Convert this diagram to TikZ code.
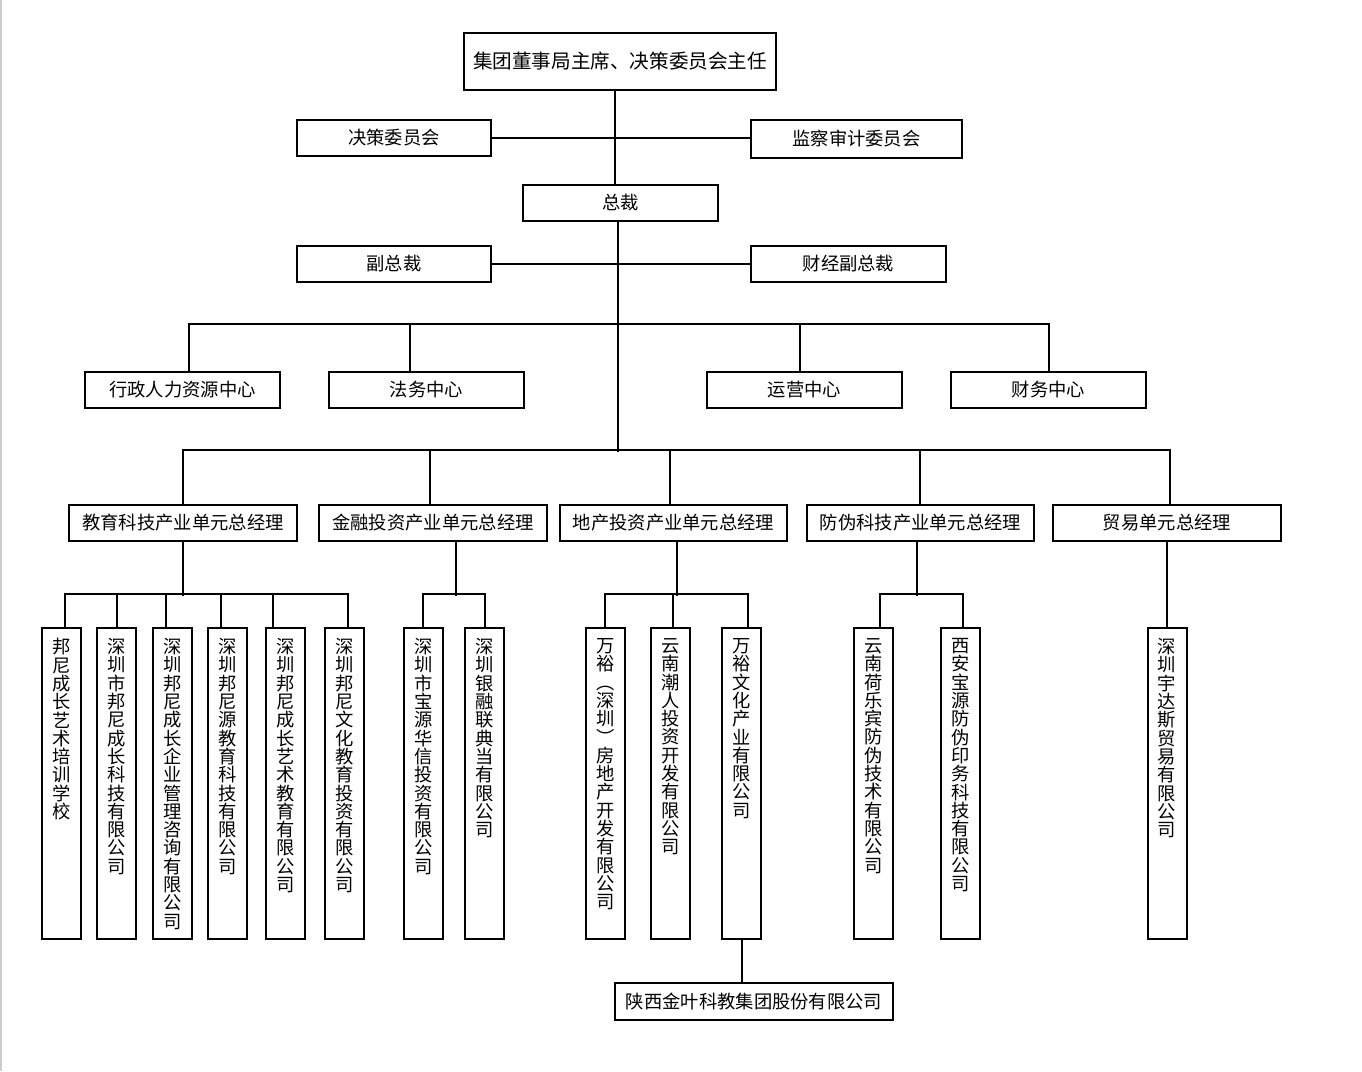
\documentclass[tikz,border=0pt]{standalone}
\usepackage{fontspec}
\newfontfamily\cjk{Noto Sans CJK SC}
% texte vertical : un caractere par ligne
\newcommand\shuxie[1]{\vbox to 290pt{\baselineskip=18.3pt\lineskiplimit=-\maxdimen\shuxiepas#1\relax\vfil}}
\def\shuxiepas#1{\ifx\relax#1\else\hbox to 22pt{\hss#1\hss}\expandafter\shuxiepas\fi}
\tikzset{poste/.style={draw,inner sep=0pt,minimum width=#1,minimum height=36pt,font=\cjk\fontsize{18.3}{18.3}\selectfont},poste/.default={195pt}}
\tikzset{societe/.style={draw,inner sep=0pt,minimum width=39pt,minimum height=311pt,anchor=north,font=\cjk\fontsize{18.3}{18.3}\selectfont}}

\begin{document}
\begin{tikzpicture}
[x=1pt,y=-1pt,line width=2pt]
\useasboundingbox (0,0) rectangle (1362,1071);
\draw[gray!40,line width=2pt] (1,0) -- (1,1071);
\node [poste=312pt,minimum height=57pt,font=\cjk\fontsize{19.6}{19.6}\selectfont] (top) at (620,61.5) {集团董事局主席、决策委员会主任};
\node [poste=194pt] (jueche) at (394,138) {决策委员会};
\node [poste=211pt,minimum height=38pt] (jiancha) at (856.5,139) {监察审计委员会};
\node [poste] (zongcai) at (620.5,203) {总裁};
\node [poste=194pt] (fuzong) at (394,264) {副总裁};
\node [poste] (caijing) at (848.5,264) {财经副总裁};
\node [poste] (xingzheng) at (182.5,389.5) {行政人力资源中心};
\node [poste] (fawu) at (426.5,389.5) {法务中心};
\node [poste] (yunying) at (804.5,389.5) {运营中心};
\node [poste] (caiwu) at (1048.5,389.5) {财务中心};
\node [poste=228pt] (jiaoyu) at (183,523) {教育科技产业单元总经理};
\node [poste=228pt] (jinrong) at (433,523) {金融投资产业单元总经理};
\node [poste=227pt] (dichan) at (673.5,523) {地产投资产业单元总经理};
\node [poste=227pt] (fangwei) at (920.5,523) {防伪科技产业单元总经理};
\node [poste=228pt] (maoyi) at (1167,523) {贸易单元总经理};
\node [societe] (b1) at (61.5,627) {\shuxie{邦尼成长艺术培训学校}};
\node [societe] (b2) at (116.5,627) {\shuxie{深圳市邦尼成长科技有限公司}};
\node [societe] (b3) at (172.5,627) {\shuxie{深圳邦尼成长企业管理咨询有限公司}};
\node [societe] (b4) at (227.5,627) {\shuxie{深圳邦尼源教育科技有限公司}};
\node [societe] (b5) at (285.5,627) {\shuxie{深圳邦尼成长艺术教育有限公司}};
\node [societe] (b6) at (344.5,627) {\shuxie{深圳邦尼文化教育投资有限公司}};
\node [societe] (b7) at (423.5,627) {\shuxie{深圳市宝源华信投资有限公司}};
\node [societe] (b8) at (484.5,627) {\shuxie{深圳银融联典当有限公司}};
\node [societe] (b9) at (605.5,627) {\shuxie{万裕︵深圳︶房地产开发有限公司}};
\node [societe] (b10) at (670.5,627) {\shuxie{云南潮人投资开发有限公司}};
\node [societe] (b11) at (741.5,627) {\shuxie{万裕文化产业有限公司}};
\node [societe] (b12) at (873.5,627) {\shuxie{云南荷乐宾防伪技术有限公司}};
\node [societe] (b13) at (960.5,627) {\shuxie{西安宝源防伪印务科技有限公司}};
\node [societe] (b14) at (1167,627) {\shuxie{深圳宇达斯贸易有限公司}};
\node [poste=278pt,minimum height=37pt] (jinye) at (754,1001.5) {陕西金叶科教集团股份有限公司};

% direction
\draw ([xshift=-5pt]top.south) -- ([xshift=-5pt]top.south |- zongcai.north);
\draw (jueche.east) -- (jueche.east -| jiancha.west);
\draw (fuzong.east) -- (caijing.west);
\draw ([xshift=-2.5pt]zongcai.south) -- ++(0,230);
% centres
\draw ([xshift=5.5pt,yshift=47pt]xingzheng.north) -- ([xshift=0.5pt,yshift=47pt]caiwu.north);
\foreach \n/\d in {xingzheng/6.5,fawu/-16.5,yunying/-4.5,caiwu/0}
	\draw ([xshift=\d pt]\n.north) -- ++(0,-48);
% unites
\draw ([xshift=-1pt,yshift=54pt]jiaoyu.north) -- ([xshift=4pt,yshift=54pt]maoyi.north);
\foreach \n/\d in {jiaoyu/0,jinrong/-3,dichan/-3.5,fangwei/-0.5,maoyi/3}
	\draw ([xshift=\d pt]\n.north) -- ++(0,-55);
\foreach \n/\d in {jiaoyu/0,jinrong/23,dichan/3.5,fangwei/-3.5}
	\draw ([xshift=\d pt]\n.south) -- ++(0,54);
\draw (maoyi.south) -- (maoyi.south |- b14.north);
% societes
\draw ([xshift=2.5pt,yshift=33pt]b1.north) -- ([xshift=4.5pt,yshift=33pt]b6.north);
\draw ([xshift=-1.5pt,yshift=33pt]b7.north) -- ([xshift=1.5pt,yshift=33pt]b8.north);
\draw ([xshift=-1.5pt,yshift=33pt]b9.north) -- ([xshift=7.5pt,yshift=33pt]b11.north);
\draw ([xshift=5.5pt,yshift=33pt]b12.north) -- ([xshift=3.5pt,yshift=33pt]b13.north);
\foreach \n/\d in {b1/3.5,b2/0.5,b3/-6.5,b4/-6.5,b5/-12.5,b6/3.5,b7/-0.5,b8/0.5,b9/-0.5,b10/2.5,b11/6.5,b12/6.5,b13/2.5}
	\draw ([xshift=\d pt]\n.north) -- ++(0,-34);
\draw (b11.south) -- (b11.south |- jinye.north);
\end{tikzpicture}
\end{document}
